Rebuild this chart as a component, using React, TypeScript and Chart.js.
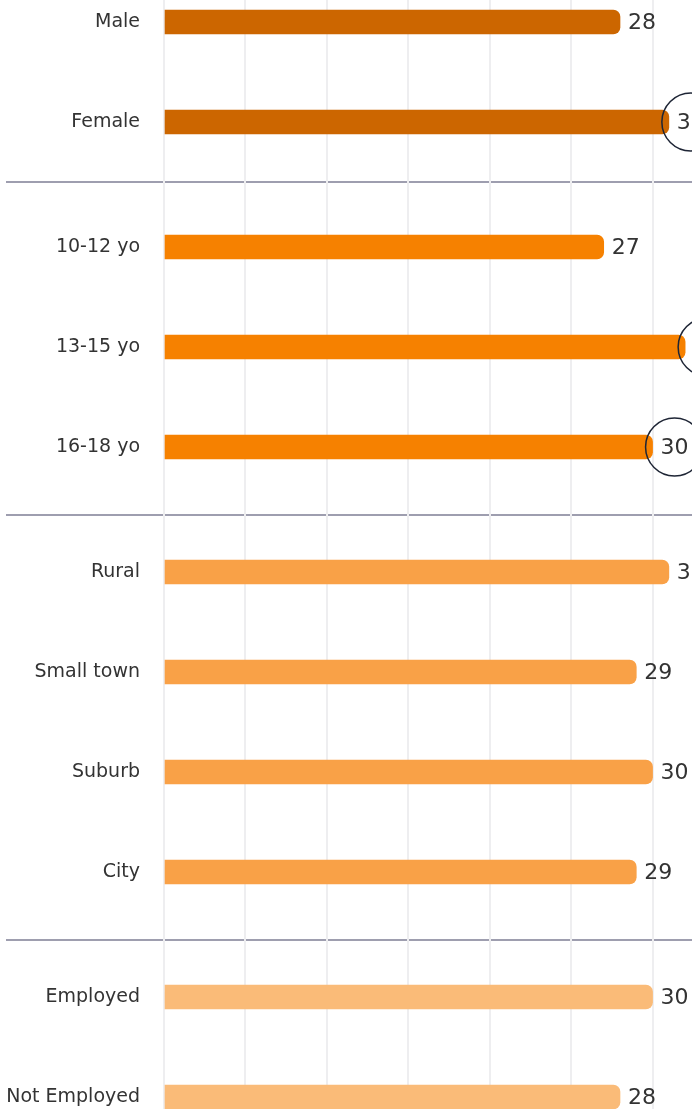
import React, { useEffect, useRef } from "react";
import { Chart, registerables } from "chart.js";

Chart.register(...registerables);

// ---- Data ----
const genderLabels = ["Male", "Female"];
const genderValues = [28, 31];
const ageLabels = ["10-12 yo", "13-15 yo", "16-18 yo"];
const ageValues = [27, 32, 30];
const areaLabels = ["Rural", "Small town", "Suburb", "City"];
const areaValues = [31, 29, 30, 29];
const employmentLabels = ["Employed", "Not Employed"];
const employmentValues = [30, 28];
const circledLabels = ["Female", "13-15 yo", "16-18 yo"];

// ---- Style ----
const groupColors = ["#CC6600", "#F68100", "#F9A147", "#FABB78"];
const FONT = "'DejaVu Sans', sans-serif";
const GROUP_GAP = 0.25;
const SEPARATOR_FRACTIONS = [0.48, 0.54, 0.54];
const W = 734;
const H = 1109;

export default function App() {
  const ref = useRef<HTMLCanvasElement | null>(null);

  useEffect(() => {
    if (!ref.current) return;
    const groups = [
      { labels: genderLabels, values: genderValues },
      { labels: ageLabels, values: ageValues },
      { labels: areaLabels, values: areaValues },
      { labels: employmentLabels, values: employmentValues },
    ];
    const labels: string[] = [];
    const points: { x: number; y: number }[] = [];
    const colors: string[] = [];
    const groupBounds: { first: number; last: number }[] = [];
    let idx = 0;
    groups.forEach((g, gi) => {
      const first = idx + gi * GROUP_GAP;
      g.labels.forEach((l, i) => {
        labels.push(l);
        points.push({ x: g.values[i], y: idx + gi * GROUP_GAP });
        colors.push(groupColors[gi]);
        idx++;
      });
      groupBounds.push({ first, last: idx - 1 + gi * GROUP_GAP });
    });
    const positions = points.map((p) => p.y);

    const separatorPlugin = {
      id: "separators",
      beforeDraw(chart: any) {
        const ctx = chart.ctx;
        const y = chart.scales.y;
        ctx.save();
        ctx.strokeStyle = "#9E9EAF";
        ctx.lineWidth = 2;
        for (let i = 0; i < groupBounds.length - 1; i++) {
          const a = y.getPixelForValue(groupBounds[i].last);
          const b = y.getPixelForValue(groupBounds[i + 1].first);
          const py = Math.round(a + (b - a) * SEPARATOR_FRACTIONS[i]);
          ctx.beginPath();
          ctx.moveTo(6, py);
          ctx.lineTo(chart.width, py);
          ctx.stroke();
        }
        ctx.restore();
      },
    };

    const valueLabelPlugin = {
      id: "valueLabels",
      afterDatasetsDraw(chart: any) {
        const ctx = chart.ctx;
        const meta = chart.getDatasetMeta(0);
        ctx.save();
        ctx.font = `22px ${FONT}`;
        ctx.fillStyle = "#333333";
        ctx.textBaseline = "middle";
        ctx.textAlign = "left";
        meta.data.forEach((el: any, i: number) => {
          const text = String(points[i].x);
          const tx = el.x + 8;
          ctx.fillText(text, tx, el.y + 1);
          if (circledLabels.includes(labels[i])) {
            const w = ctx.measureText(text).width;
            ctx.beginPath();
            ctx.strokeStyle = "#1E2535";
            ctx.lineWidth = 1.5;
            ctx.arc(tx + w / 2, el.y, 29, 0, Math.PI * 2);
            ctx.stroke();
          }
        });
        ctx.restore();
      },
    };

    const chart = new Chart(ref.current, {
      type: "bar",
      data: {
        labels,
        datasets: [
          {
            data: points as any,
            backgroundColor: colors,
            borderWidth: 0,
            borderRadius: 7,
            borderSkipped: "start",
            barThickness: 24,
          },
        ],
      },
      options: {
        indexAxis: "y",
        animation: false,
        responsive: false,
        maintainAspectRatio: false,
        layout: { padding: 0 },
        plugins: {
          legend: { display: false },
          tooltip: { enabled: false },
        },
        scales: {
          x: {
            type: "linear",
            position: "bottom",
            min: 0,
            max: 35,
            offset: false,
            ticks: { display: false, stepSize: 5 },
            border: { display: false },
            grid: {
              color: "#EEEEF0",
              lineWidth: 2,
              drawTicks: false,
              offset: false,
            },
          },
          y: {
            type: "linear",
            reverse: true,
            offset: false,
            min: -0.22,
            max: 10.87,
            border: { display: false },
            grid: { display: false, drawTicks: false, offset: false },
            afterBuildTicks(scale: any) {
              scale.ticks = positions.map((v) => ({ value: v }));
            },
            afterFit(scale: any) {
              scale.width = 164;
              scale.paddingTop = 0;
              scale.paddingBottom = 0;
            },
            ticks: {
              autoSkip: false,
              padding: 24,
              color: "#333333",
              font: { family: FONT, size: 19 },
              callback: (_v: any, i: number) => labels[i],
            },
          },
        },
      },
      plugins: [separatorPlugin, valueLabelPlugin],
    });
    return () => chart.destroy();
  }, []);

  return (
    <div
      style={{
        position: "fixed",
        left: 0,
        top: 0,
        width: 692,
        height: H,
        overflow: "hidden",
        background: "#ffffff",
      }}
    >
      <canvas
        ref={ref}
        width={W}
        height={H}
        style={{ width: W, height: H, display: "block" }}
      />
    </div>
  );
}
